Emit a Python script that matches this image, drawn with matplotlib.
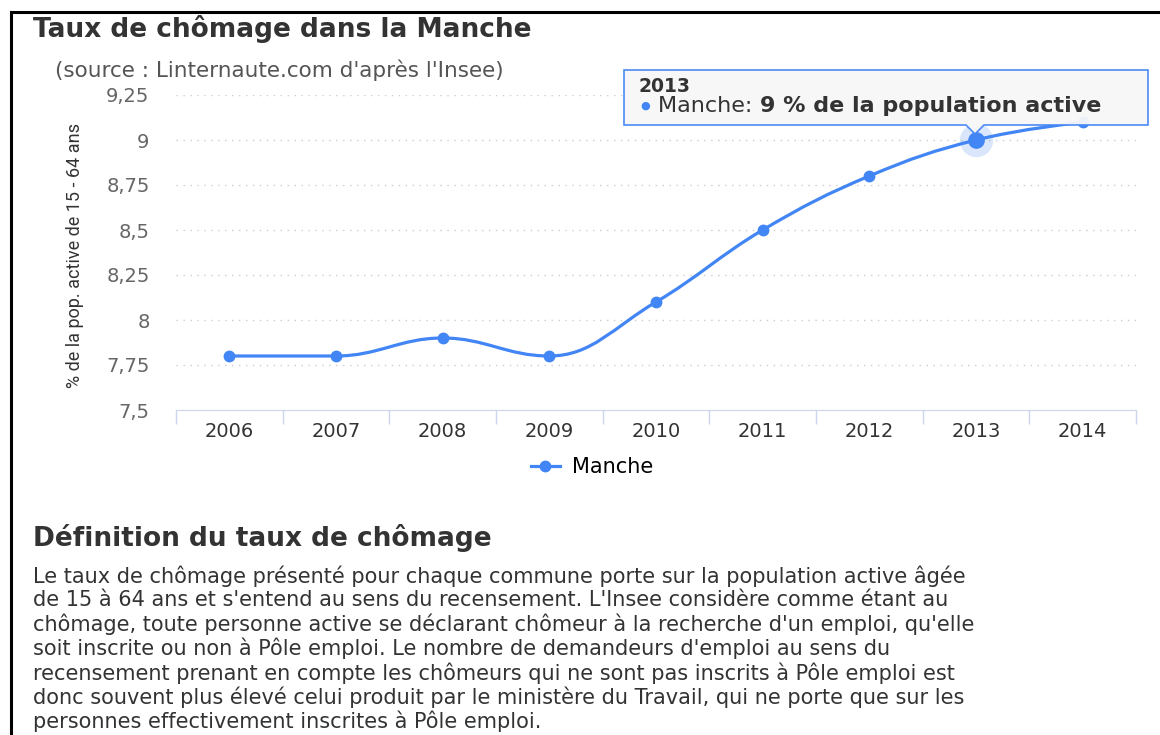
import matplotlib.pyplot as plt
from matplotlib.path import Path
from matplotlib.patches import PathPatch, Polygon
from matplotlib.lines import Line2D

annees = ["2006", "2007", "2008", "2009", "2010", "2011", "2012", "2013", "2014"]
taux = [7.8, 7.8, 7.9, 7.8, 8.1, 8.5, 8.8, 9.0, 9.1]

bleu = "#4285f4"
largeur, hauteur = 1160, 735

texte_definition = [
    "Le taux de chômage présenté pour chaque commune porte sur la population active âgée",
    "de 15 à 64 ans et s'entend au sens du recensement. L'Insee considère comme étant au",
    "chômage, toute personne active se déclarant chômeur à la recherche d'un emploi, qu'elle",
    "soit inscrite ou non à Pôle emploi. Le nombre de demandeurs d'emploi au sens du",
    "recensement prenant en compte les chômeurs qui ne sont pas inscrits à Pôle emploi est",
    "donc souvent plus élevé celui produit par le ministère du Travail, qui ne porte que sur les",
    "personnes effectivement inscrites à Pôle emploi.",
]

fig = plt.figure(figsize=(11.6, 7.35), dpi=100)
ax = fig.add_axes([176 / largeur, 1 - 410 / hauteur, 960 / largeur, 315 / hauteur])

# courbe lissée façon "spline" (points de contrôle calculés depuis les données)
xs = list(range(len(taux)))
lissage = 1.5
gauche, droite = {}, {}
for i in range(1, len(taux) - 1):
    lx = (lissage * xs[i] + xs[i - 1]) / (lissage + 1)
    ly = (lissage * taux[i] + taux[i - 1]) / (lissage + 1)
    rx = (lissage * xs[i] + xs[i + 1]) / (lissage + 1)
    ry = (lissage * taux[i] + taux[i + 1]) / (lissage + 1)
    correction = ((ry - ly) * (rx - xs[i])) / (rx - lx) + taux[i] - ry
    ly += correction
    ry += correction
    if ly > max(taux[i - 1], taux[i]):
        ly = max(taux[i - 1], taux[i])
        ry = 2 * taux[i] - ly
    elif ly < min(taux[i - 1], taux[i]):
        ly = min(taux[i - 1], taux[i])
        ry = 2 * taux[i] - ly
    if ry > max(taux[i + 1], taux[i]):
        ry = max(taux[i + 1], taux[i])
        ly = 2 * taux[i] - ry
    elif ry < min(taux[i + 1], taux[i]):
        ry = min(taux[i + 1], taux[i])
        ly = 2 * taux[i] - ry
    gauche[i] = (lx, ly)
    droite[i] = (rx, ry)

sommets = [(xs[0], taux[0])]
codes = [Path.MOVETO]
for i in range(1, len(taux)):
    sommets += [droite.get(i - 1, (xs[i - 1], taux[i - 1])), gauche.get(i, (xs[i], taux[i])), (xs[i], taux[i])]
    codes += [Path.CURVE4] * 3
ax.add_patch(PathPatch(Path(sommets, codes), facecolor="none", edgecolor=bleu, lw=2.3, capstyle="round"))
ax.plot(xs, taux, "o", color=bleu, markersize=7.5, zorder=3)

# point survolé (2013)
i13 = annees.index("2013")
ax.plot(xs[i13], taux[i13], "o", color=bleu, markersize=24, alpha=0.2, markeredgewidth=0, zorder=3)
ax.plot(xs[i13], taux[i13], "o", color=bleu, markersize=11, zorder=4)

ax.set_xlim(-0.5, len(taux) - 0.5)
ax.set_ylim(7.5, 9.25)
graduations = [7.5, 7.75, 8, 8.25, 8.5, 8.75, 9, 9.25]
ax.set_yticks(graduations)
ax.set_yticklabels([f"{v:g}".replace(".", ",") for v in graduations])
ax.set_xticks(xs)
ax.set_xticklabels(annees)
ax.set_xticks([x - 0.5 for x in xs] + [xs[-1] + 0.5], minor=True)
ax.tick_params(axis="y", length=0, pad=19, labelsize=14, labelcolor="#666666")
ax.tick_params(axis="x", which="major", length=0, pad=9, labelsize=14, labelcolor="#333333")
ax.tick_params(axis="x", which="minor", length=10, width=1, color="#ccd6eb")
for g in graduations[1:]:
    ax.axhline(g, color="#cccccc", lw=1, linestyle=(0, (1, 4)), zorder=0)
for cote in ["top", "right", "left"]:
    ax.spines[cote].set_visible(False)
ax.spines["bottom"].set_color("#ccd6eb")
ax.set_ylabel("% de la pop. active de 15 - 64 ans", family=["Roboto", "DejaVu Sans"],
              fontsize=13, color="#333333", va="center")
ax.yaxis.set_label_coords(-101 / 960, 0.49)

# titres
plt.figtext(33 / largeur, 1 - 29 / hauteur, "Taux de chômage dans la Manche", fontsize=19, weight="bold",
            color="#333333", va="center")
plt.figtext(55 / largeur, 1 - 70 / hauteur, "(source : Linternaute.com d'après l'Insee)", fontsize=15.5,
            color="#555555", va="center")

# légende
plt.legend(handles=[Line2D([], [], color=bleu, lw=2.3, marker="o", markersize=7.5)], labels=["Manche"],
           loc="center", bbox_to_anchor=(592 / largeur, 1 - 467 / hauteur), bbox_transform=fig.transFigure,
           frameon=False, fontsize=15, handlelength=1.4, handletextpad=0.6)

# infobulle
bulle = [(624, 70), (1148, 70), (1148, 125), (984, 125), (975, 134), (966, 125), (624, 125)]
fig.add_artist(Polygon([(x / largeur, 1 - y / hauteur) for x, y in bulle], closed=True, transform=fig.transFigure,
                       facecolor="#f7f7f7", edgecolor=bleu, lw=1.2, alpha=0.95, zorder=5))
plt.figtext(638 / largeur, 1 - 87 / hauteur, "2013", fontsize=13.5, weight="bold", color="#333333",
            va="center", zorder=6)
plt.figtext(645 / largeur, 1 - 106 / hauteur, "●", fontsize=8, color=bleu, va="center", ha="center", zorder=6)
etiquette = plt.figtext(658 / largeur, 1 - 106 / hauteur, "Manche: ", fontsize=16, color="#333333",
                        va="center", zorder=6)
rendu = fig.canvas.get_renderer()
fin = etiquette.get_window_extent(rendu).x1
plt.figtext(fin / largeur, 1 - 106 / hauteur, "9 % de la population active", fontsize=16, weight="bold",
            color="#333333", va="center", zorder=6)

# définition
plt.figtext(33 / largeur, 1 - 538 / hauteur, "Définition du taux de chômage", fontsize=19, weight="bold",
            color="#333333", va="center")
for k, ligne in enumerate(texte_definition):
    plt.figtext(33 / largeur, 1 - (576 + 24.2 * k) / hauteur, ligne, fontsize=15, color="#333333", va="center")

# cadre de la capture
fig.add_artist(Line2D([11 / largeur, 1], [1 - 12 / hauteur] * 2, color="black", lw=2.2, transform=fig.transFigure))
fig.add_artist(Line2D([11 / largeur] * 2, [0, 1 - 12 / hauteur], color="black", lw=2.2, transform=fig.transFigure))

plt.savefig("out.png")
